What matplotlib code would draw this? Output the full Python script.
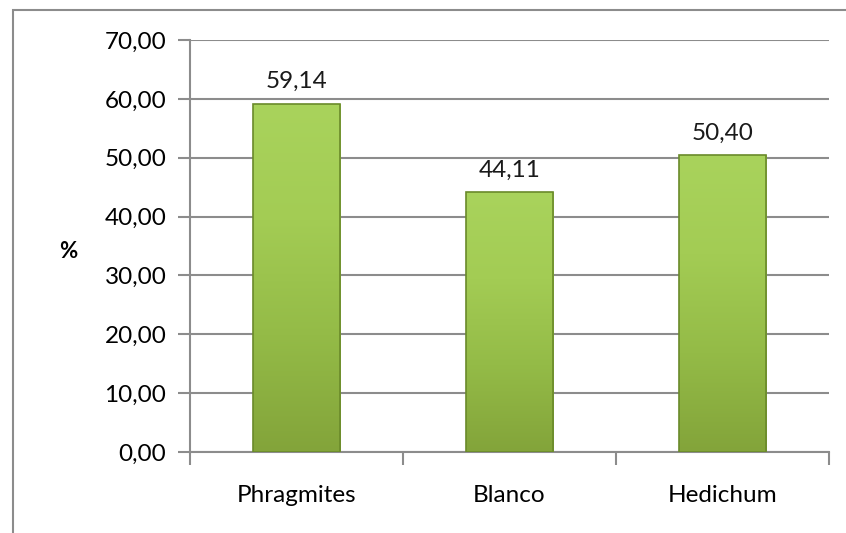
import matplotlib.pyplot as plt
import numpy as np
from matplotlib.patches import Rectangle
from matplotlib.colors import LinearSegmentedColormap

categories = ['Phragmites', 'Blanco', 'Hedichum']
values = [59.14, 44.11, 50.40]
yticks = [0, 10, 20, 30, 40, 50, 60, 70]

plt.rcParams['font.family'] = ['Lato', 'DejaVu Sans']

fig = plt.figure(figsize=(8.46, 5.33), dpi=100)
W, H = 846, 533
ax = fig.add_axes([190 / W, 1 - 452 / H, (829 - 190) / W, (452 - 40) / H])

# outer chart border
fig.patches.append(Rectangle((13 / W, -0.05), 1.1, 1 - 10 / H + 0.05,
                             transform=fig.transFigure, fill=False,
                             edgecolor='#8c8c8c', linewidth=1.5))

x = np.arange(len(categories))
bars = ax.bar(x, values, width=0.41, color='none', zorder=3)

# vertical gradient fill for each bar
grad = np.linspace(0, 1, 256).reshape(-1, 1)
cmap = LinearSegmentedColormap.from_list('g', ['#83a43a', '#94bb47', '#a3cc54', '#a9d35c'])
for b in bars:
    x0, w, h = b.get_x(), b.get_width(), b.get_height()
    im = ax.imshow(grad, extent=[x0, x0 + w, 0, h], origin='lower', aspect='auto',
                   cmap=cmap, zorder=3)
    im.set_clip_path(b)
    ax.add_patch(Rectangle((x0, 0), w, h, fill=False, edgecolor='#6a8a2a',
                           linewidth=1.2, zorder=4))
    ax.text(x0 + w / 2, h + 2.0, f'{h:.2f}'.replace('.', ','), ha='center',
            va='bottom', fontsize=17.5, color='#1a1a1a')

ax.set_xlim(-0.5, len(categories) - 0.5)
ax.set_ylim(0, 70)
ax.set_yticks(yticks)
ax.set_yticklabels([f'{v:.2f}'.replace('.', ',') for v in yticks], fontsize=17.5)
ax.yaxis.grid(True, color='#8c8c8c', linewidth=1.5, zorder=0)
ax.set_axisbelow(True)

ax.set_xticks(x)
ax.set_xticklabels(categories, fontsize=17.5)
ax.set_xticks(np.arange(len(categories) + 1) - 0.5, minor=True)
ax.tick_params(axis='x', which='major', length=0, pad=24)
ax.tick_params(axis='x', which='minor', length=9, width=1.5, color='#8c8c8c')
ax.tick_params(axis='y', length=9, width=1.5, color='#8c8c8c', pad=8)

for s in ['top', 'right']:
    ax.spines[s].set_visible(False)
for s in ['left', 'bottom']:
    ax.spines[s].set_color('#8c8c8c')
    ax.spines[s].set_linewidth(1.5)

fig.text(68 / W, 1 - 252 / H, '%', fontsize=16, fontweight='bold', ha='center', va='center')

fig.savefig('out.png', dpi=100)
